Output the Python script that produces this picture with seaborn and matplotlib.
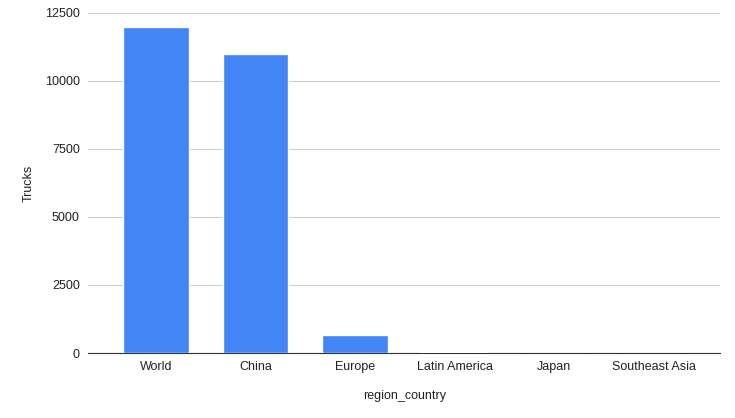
import numpy as np
import pandas as pd
import seaborn as sns
import matplotlib.pyplot as plt

regions = ["World", "China", "Europe", "Latin America", "Japan", "Southeast Asia"]
trucks = [12000, 11000, 680, 40, 5, 3]
yticks = [0, 2500, 5000, 7500, 10000, 12500]

df = pd.DataFrame({"region_country": regions, "Trucks": trucks})

sns.set_style("white")
plt.rcParams["font.family"] = ["Liberation Sans", "DejaVu Sans"]

fig = plt.figure(figsize=(7.35, 4.18), dpi=100)
ax = fig.add_axes([0.12, 0.1555, 0.86, 0.8135])

sns.barplot(data=df, x="region_country", y="Trucks", color="#4285f4",
            saturation=1, width=0.66, ax=ax, zorder=3)

ax.set_xlim(-0.68, 5.67)
ax.set_ylim(0, 12500)
ax.set_yticks(yticks)
ax.set_yticklabels([str(t) for t in yticks])
ax.grid(axis="y", color="#cccccc", linewidth=0.8, zorder=0)
for s in ["top", "right", "left"]:
    ax.spines[s].set_visible(False)
ax.spines["bottom"].set_color("#333333")
ax.tick_params(axis="both", length=0, labelsize=9, colors="#222222", pad=6)
ax.set_xlabel("region_country", fontsize=9, color="#222222")
ax.set_ylabel("Trucks", fontsize=9, color="#222222")
ax.xaxis.set_label_coords(0.5, -0.11)
ax.yaxis.set_label_coords(-0.085, 0.5)

fig.savefig("out.png", dpi=100)
